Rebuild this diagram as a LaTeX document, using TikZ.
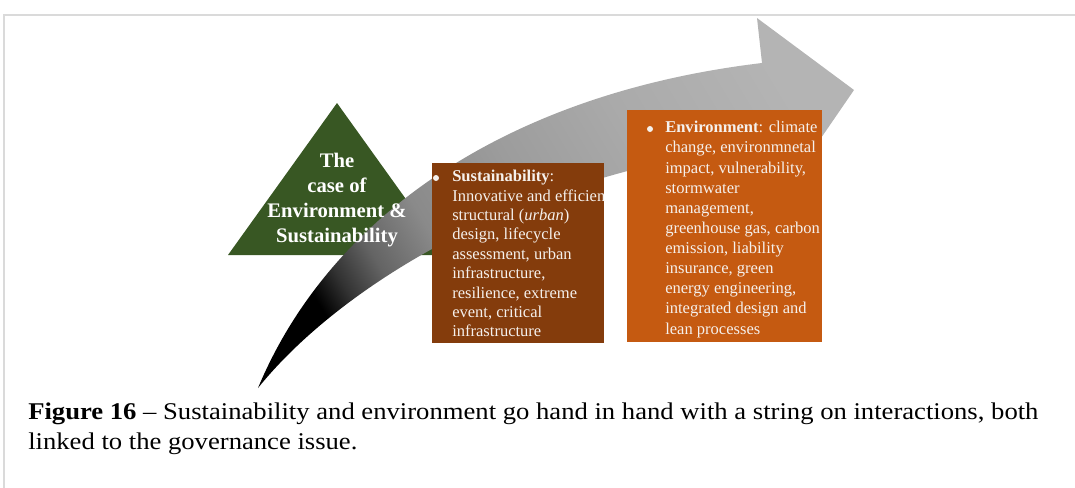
\documentclass[tikz,border=0pt]{standalone}
\usepackage{fontspec}
\setmainfont{Liberation Serif}
\newfontfamily\capfont{Liberation Serif}[FakeStretch=1.11,Ligatures=TeX]
\definecolor{trigreen}{RGB}{56,87,35}
\definecolor{sbrown}{RGB}{132,60,12}
\definecolor{eorange}{RGB}{197,90,17}
\definecolor{framegray}{RGB}{218,218,218}
\definecolor{boxwhite}{RGB}{245,240,236}
\definecolor{ga}{RGB}{50,50,50}
\definecolor{gb}{RGB}{100,100,100}
\definecolor{gc}{RGB}{138,138,138}
\definecolor{gd}{RGB}{156,156,156}
\definecolor{ge}{RGB}{170,170,170}
\definecolor{gf}{RGB}{180,180,180}
\pgfdeclareverticalshading{arrowshade}{100bp}{color(0bp)=(black); color(25bp)=(black); color(28bp)=(ga); color(32bp)=(gb); color(38bp)=(gc); color(48bp)=(gd); color(60bp)=(ge); color(75bp)=(gf); color(100bp)=(gf)}
\begin{document}
\begin{tikzpicture}[x=0.75pt,y=-0.75pt,
  tritext/.style={font=\fontsize{15.5}{18.75}\selectfont\bfseries, text=white, align=center, inner sep=0pt},
  boxtext/.style={text=boxwhite, align=left, inner sep=0pt, anchor=north west},
  bulletdot/.style={circle, fill=boxwhite, inner sep=0pt, minimum size=4.5pt},
  panel/.style={inner sep=0pt, outer sep=0pt, anchor=north west},
  captext/.style={font=\capfont\fontsize{18}{22.5}\selectfont, align=left, inner sep=0pt, anchor=north west}]
\useasboundingbox (0,0) rectangle (1075,487);
% frame
\draw[framegray, line width=1.5pt] (4,490) -- (4,15) -- (1080,15);
% triangle
\fill[trigreen] (228,255) -- (337,103) -- (446,255) -- cycle;
% curved arrow
\shade[shading=arrowshade, shading angle=-59]
  (258,388) .. controls (328,220) and (502,94) .. (762,63) -- (757,18) -- (854,90)
  -- (786,189) -- (778,145) .. controls (540,165) and (345,280) .. (258,388) -- cycle;
% triangle text
\node[tritext, anchor=north] (tt) at (337,153) {The\\case of\\Environment \&\\Sustainability};
% sustainability box
\node[panel, fill=sbrown, minimum width=129pt, minimum height=135pt] (sbox) at (432,163) {};
\node[bulletdot] (sb) at (436,178) {};
\begin{scope}
\clip (432,163) rectangle (604,343);
\node[boxtext, font=\fontsize{12.4}{14.55}\selectfont] (stext) at (452,170)
 {\textbf{Sustainability}:\\Innovative and efficient\\structural (\textit{urban})\\design, lifecycle\\assessment, urban\\infrastructure,\\resilience, extreme\\event, critical\\infrastructure};
\end{scope}
% environment box
\node[panel, fill=eorange, minimum width=146.25pt, minimum height=174pt] (ebox) at (627,110) {};
\node[bulletdot] (eb) at (650,129) {};
\node[boxtext, font=\fontsize{12.4}{15.1}\selectfont] (etext) at (665,121)
 {\textbf{Environment}: climate\\change, environmnetal\\impact, vulnerability,\\stormwater\\management,\\greenhouse gas, carbon\\emission, liability\\insurance, green\\energy engineering,\\integrated design and\\lean processes};
% caption
\node[captext] (cap) at (28,403)
 {\textbf{Figure 16} \textendash{} Sustainability and environment go hand in hand with a string on interactions, both\\linked to the governance issue.};
\end{tikzpicture}
\end{document}
